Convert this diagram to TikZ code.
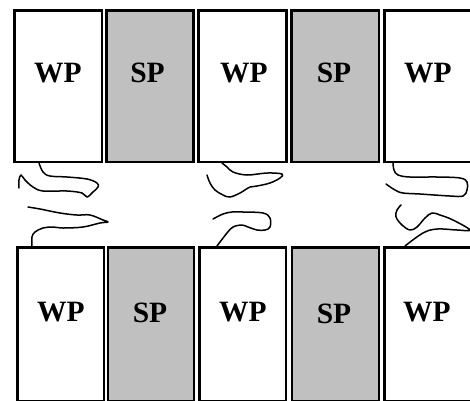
\documentclass[tikz,border=0pt]{standalone}
\usepackage{fontspec}
\setmainfont{Liberation Serif}
\usepackage{tikz}
\usetikzlibrary{positioning}
\definecolor{spgray}{RGB}{192,192,192}
\tikzset{
  wpbox/.style={draw, line width=2.5pt, fill=white, inner sep=0pt},
  spbox/.style={wpbox, fill=spgray},
  lbl/.style={font=\fontsize{29.5}{29.5}\selectfont\bfseries, inner sep=0pt},
  chain/.style={line width=1.5pt, line cap=round, line join=round}
}
\begin{document}
\begin{tikzpicture}[x=1pt, y=-1pt]
	\clip (0,0) rectangle (470,400);

	% top row
	\node[wpbox, minimum width=87.5pt, minimum height=151.5pt] (T1) at (58.25,86) {};
	\node[spbox, minimum width=87pt, minimum height=151.5pt] (T2) at (150,86) {};
	\node[wpbox, minimum width=88pt, minimum height=151.5pt] (T3) at (242.5,86) {};
	\node[spbox, minimum width=87.5pt, minimum height=151.5pt] (T4) at (335.25,86) {};
	\node[wpbox, minimum width=100pt, minimum height=151.5pt] (T5) at (434.5,86) {};

	% bottom row
	\node[wpbox, minimum width=86.5pt, minimum height=153.5pt] (B1) at (60.75,324.25) {};
	\node[spbox, minimum width=86pt, minimum height=153.5pt] (B2) at (151,324.25) {};
	\node[wpbox, minimum width=86.5pt, minimum height=153.5pt] (B3) at (242.75,324.25) {};
	\node[spbox, minimum width=87pt, minimum height=153.5pt] (B4) at (335.5,324.25) {};
	\node[wpbox, minimum width=100pt, minimum height=153.5pt] (B5) at (434.5,324.25) {};

	% labels
	\node[lbl] (tw1) at (58,73) {WP};
	\node[lbl] (ts2) at (147.5,73) {SP};
	\node[lbl] (tw3) at (244,73) {WP};
	\node[lbl] (ts4) at (334,73) {SP};
	\node[lbl] (tw5) at (428,73) {WP};
	\node[lbl] (bw1) at (61,312) {WP};
	\node[lbl] (bs2) at (150,313) {SP};
	\node[lbl] (bw3) at (243,312) {WP};
	\node[lbl] (bs4) at (334,314) {SP};
	\node[lbl] (bw5) at (427,312) {WP};

	% chains
	\draw[chain] plot[smooth, tension=0.6] coordinates {(39,163) (43,172) (50,176) (67,177) (87,179) (97,183) (98,187) (93,192) (87,197) (82,193) (67,191) (43,191) (33,187) (25,180) (21,175) (19,180) (19,188)};
	\draw[chain] plot[smooth, tension=0.6] coordinates {(28,207) (40,209) (60,213) (77,215) (90,215) (103,220) (108,222) (100,223) (83,227) (63,228) (53,227) (43,228) (35,232) (32,237) (32,246)};
	\draw[chain] plot[smooth, tension=0.6] coordinates {(222,163) (227,167) (233,172) (247,175) (267,173) (282,174) (280,178) (270,183) (257,186) (250,187) (240,193) (230,197) (223,195) (215,190) (210,183) (207,175)};
	\draw[chain] plot[smooth, tension=0.6] coordinates {(213,219) (223,214) (232,212) (243,212) (263,213) (270,218) (270,227) (265,230) (257,230) (248,227) (242,225) (233,227) (227,233) (217,246)};
	\draw[chain] plot[smooth, tension=0.6] coordinates {(393,163) (394,170) (398,175) (410,177) (437,177) (460,178) (467,182) (467,190) (463,196) (450,196) (420,194) (403,193) (395,190) (386,184)};
	\draw[chain] plot[smooth, tension=0.6] coordinates {(401,205) (397,210) (396,217) (402,225) (410,230) (417,227) (425,218) (432,213) (440,215) (453,220) (470,230) (457,230) (437,229) (423,233) (405,246)};
\end{tikzpicture}
\end{document}
